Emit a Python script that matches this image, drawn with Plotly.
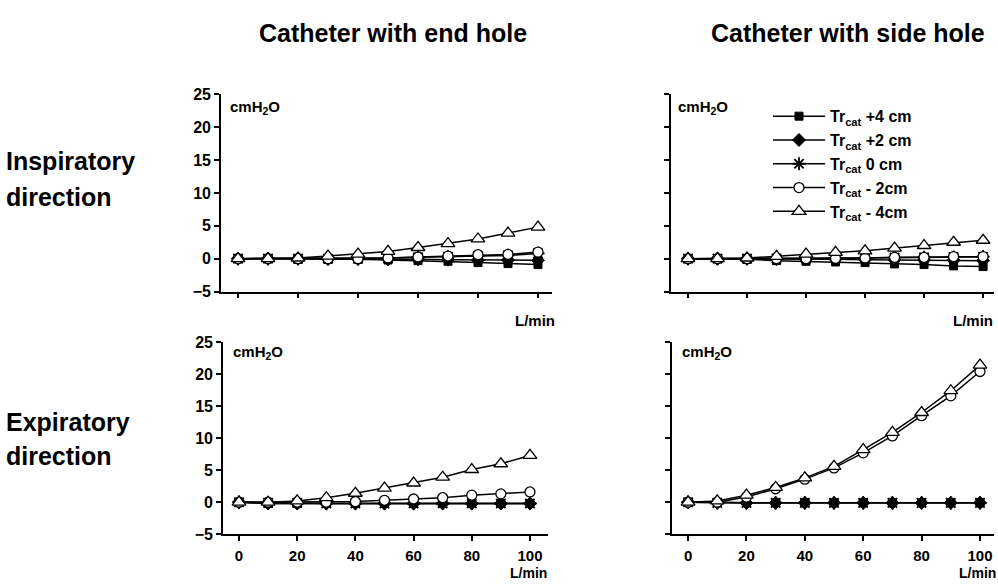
import plotly.graph_objects as go

flow = [0, 10, 20, 30, 40, 50, 60, 70, 80, 90, 100]

series_names = [
    "Tr<sub>cat</sub> +4 cm",
    "Tr<sub>cat</sub> +2 cm",
    "Tr<sub>cat</sub> 0 cm",
    "Tr<sub>cat</sub> - 2cm",
    "Tr<sub>cat</sub> - 4cm",
]

# Inspiratory direction, catheter with end hole
insp_end_p4 = [0, 0, -0.1, -0.1, -0.1, -0.2, -0.3, -0.4, -0.6, -0.75, -0.9]
insp_end_p2 = [0, 0, 0, -0.05, -0.05, -0.1, -0.1, -0.15, -0.2, -0.2, -0.25]
insp_end_0 = [0, 0, 0, 0, 0, 0.1, 0.2, 0.3, 0.4, 0.5, 0.8]
insp_end_m2 = [0, 0, 0, 0, 0, 0.1, 0.25, 0.4, 0.6, 0.65, 1.0]
insp_end_m4 = [0, 0, 0.1, 0.4, 0.7, 1.1, 1.7, 2.3, 3.0, 3.9, 4.8]

# Inspiratory direction, catheter with side hole
insp_side_p4 = [0, 0, -0.1, -0.3, -0.4, -0.5, -0.6, -0.8, -0.9, -1.1, -1.2]
insp_side_p2 = [0, 0, 0, -0.05, -0.1, -0.1, -0.15, -0.2, -0.2, -0.25, -0.3]
insp_side_0 = [0, 0, 0, 0, 0.05, 0.1, 0.1, 0.15, 0.2, 0.25, 0.3]
insp_side_m2 = [0, 0, 0, 0, 0, 0.05, 0.1, 0.2, 0.2, 0.3, 0.3]
insp_side_m4 = [0, 0, 0.1, 0.35, 0.7, 0.95, 1.2, 1.6, 2.0, 2.5, 2.8]

# Expiratory direction, catheter with end hole
exp_end_p4 = [0, -0.2, -0.2, -0.2, -0.2, -0.2, -0.2, -0.2, -0.2, -0.2, -0.2]
exp_end_p2 = [0, -0.2, -0.2, -0.2, -0.2, -0.2, -0.2, -0.2, -0.2, -0.2, -0.2]
exp_end_0 = [0, -0.1, -0.1, -0.2, -0.2, -0.2, -0.2, -0.2, -0.2, -0.2, -0.2]
exp_end_m2 = [0, 0, 0, 0, 0.1, 0.3, 0.5, 0.7, 1.1, 1.3, 1.6]
exp_end_m4 = [0, 0, 0.2, 0.7, 1.4, 2.2, 3.0, 3.9, 5.1, 6.0, 7.3]

# Expiratory direction, catheter with side hole
exp_side_p4 = [0, -0.1, -0.1, -0.1, -0.1, -0.1, -0.1, -0.1, -0.1, -0.1, -0.1]
exp_side_p2 = [0, -0.1, -0.1, -0.1, -0.1, -0.1, -0.1, -0.1, -0.1, -0.1, -0.1]
exp_side_0 = [0, -0.1, -0.1, -0.1, -0.1, -0.1, -0.1, -0.1, -0.1, -0.1, -0.1]
exp_side_m2 = [0, 0, 0.8, 2.1, 3.6, 5.35, 7.7, 10.35, 13.5, 16.6, 20.4]
exp_side_m4 = [0, 0.2, 1.1, 2.3, 3.8, 5.6, 8.2, 10.9, 14.0, 17.4, 21.4]

x_ticks = [0, 20, 40, 60, 80, 100]
y_ticks = [-5, 0, 5, 10, 15, 20, 25]

panels = [
    ("x", "y", [insp_end_p4, insp_end_p2, insp_end_0, insp_end_m2, insp_end_m4]),
    ("x2", "y2", [insp_side_p4, insp_side_p2, insp_side_0, insp_side_m2, insp_side_m4]),
    ("x3", "y3", [exp_end_p4, exp_end_p2, exp_end_0, exp_end_m2, exp_end_m4]),
    ("x4", "y4", [exp_side_p4, exp_side_p2, exp_side_0, exp_side_m2, exp_side_m4]),
]

marker_styles = [
    dict(symbol="square", color="black", size=8, line=dict(color="black", width=1)),
    dict(symbol="diamond", color="black", size=10, line=dict(color="black", width=1)),
    dict(symbol="asterisk-open", color="black", size=11, line=dict(color="black", width=1.8)),
    dict(symbol="circle", color="white", size=10, line=dict(color="black", width=1.3)),
    dict(symbol="triangle-up", color="white", size=12, line=dict(color="black", width=1.3)),
]

fig = go.Figure()
for pi, (xa, ya, data) in enumerate(panels):
    for si, vals in enumerate(data):
        fig.add_trace(go.Scatter(
            x=flow, y=vals, xaxis=xa, yaxis=ya,
            mode="lines+markers",
            name=series_names[si],
            showlegend=(pi == 1),
            line=dict(color="black", width=1.5),
            marker=marker_styles[si],
        ))

FONT = "Liberation Sans, Arial, Helvetica, sans-serif"
W, H = 998, 585


def px_x(p):
    return p / W


def px_y(p):
    return 1 - p / H


axis_common = dict(
    showgrid=False, zeroline=False, showline=True, linecolor="black", linewidth=1.6,
    ticks="outside", ticklen=5, tickwidth=1.6, tickcolor="black",
    tickfont=dict(family=FONT, size=16, color="black", weight="bold"),
)

xcols = {
    "x": ([221, 552], [-5.67, 104.67]),
    "x2": ([671, 994], [-5.76, 103.7]),
    "x3": ([223, 548], [-5.5, 106.2]),
    "x4": ([672, 994], [-5.5, 104.8]),
}
yrows = {
    "y": [89, 292],
    "y2": [89, 292],
    "y3": [344, 542],
    "y4": [344, 542],
}

layout = dict(
    width=W, height=H, margin=dict(l=0, r=0, t=0, b=0),
    paper_bgcolor="white", plot_bgcolor="white",
    font=dict(family=FONT, color="black"),
    legend=dict(
        x=px_x(768), y=px_y(94), xanchor="left", yanchor="top",
        bgcolor="rgba(0,0,0,0)", borderwidth=0,
        font=dict(family=FONT, size=16, color="black", weight="bold"),
        itemwidth=52, tracegroupgap=0,
    ),
)

for i, (xa, ya) in enumerate([("x", "y"), ("x2", "y2"), ("x3", "y3"), ("x4", "y4")]):
    xkey = "xaxis" if i == 0 else f"xaxis{i+1}"
    ykey = "yaxis" if i == 0 else f"yaxis{i+1}"
    dom, rng = xcols[xa]
    ydom = yrows[ya]
    layout[xkey] = dict(
        axis_common,
        domain=[px_x(dom[0]), px_x(dom[1])], range=rng,
        anchor=ya, tickmode="array", tickvals=x_ticks,
        showticklabels=(i >= 2), ticklabelstandoff=2,
        tickfont=dict(family=FONT, size=15, color="black", weight="bold"),
    )
    layout[ykey] = dict(
        axis_common,
        domain=[px_y(ydom[1]), px_y(ydom[0])], range=[-5, 25],
        anchor=xa, tickmode="array", tickvals=y_ticks,
        showticklabels=(i % 2 == 0),
    )

fig.update_layout(**layout)


def ann(text, x, y, size, xanchor="center", yanchor="middle", yshift=0):
    fig.add_annotation(
        text=text, x=px_x(x), y=px_y(y), xref="paper", yref="paper",
        xanchor=xanchor, yanchor=yanchor, showarrow=False, yshift=yshift,
        borderpad=0,
        font=dict(family=FONT, size=size, color="black", weight="bold"),
    )


ann("Catheter with end hole", 393, 26, 25)
ann("Catheter with side hole", 848, 26, 25)
ann("Inspiratory", 5, 158, 25, xanchor="left")
ann("direction", 5, 195, 25, xanchor="left")
ann("Expiratory", 5, 426, 25, xanchor="left")
ann("direction", 5, 461, 25, xanchor="left")
for (x, y) in [(229, 102), (677, 102), (232, 355), (681, 355)]:
    ann("cmH<sub>2</sub>O", x, y, 15, xanchor="left")
for (x, y) in [(556, 322), (994, 322)]:
    ann("L/min", x, y, 15, xanchor="right", yanchor="middle")
for (x, y) in [(548, 585), (997, 585)]:
    ann("L/min", x, y, 14, xanchor="right", yanchor="bottom", yshift=-6)

fig.write_html("out.html")
